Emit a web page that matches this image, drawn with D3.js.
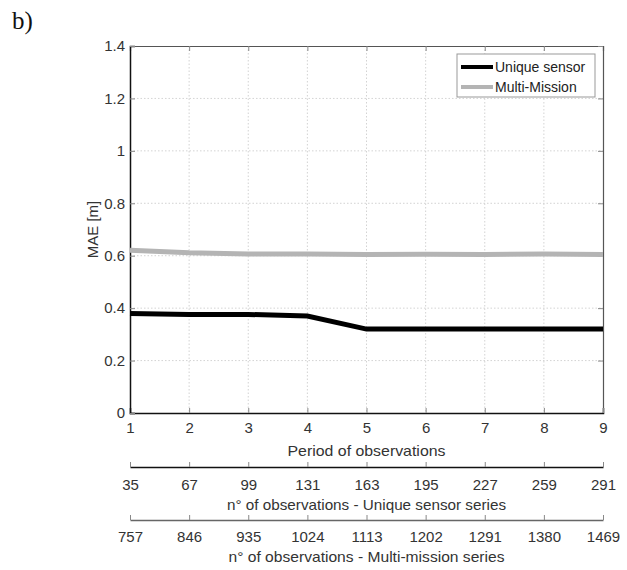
<!DOCTYPE html>
<html>
<head>
<meta charset="utf-8">
<script src="https://cdn.jsdelivr.net/npm/d3@7"></script>
<style>
  html, body { margin: 0; padding: 0; background: #fff; }
  svg { display: block; }
  text { font-family: "Liberation Sans", Arial, sans-serif; }
</style>
</head>
<body>
<svg id="chart" width="627" height="570"></svg>
<script>
// Periods of observation and the MAE of each series
const periods = [1, 2, 3, 4, 5, 6, 7, 8, 9];
const uniqueSensor = [0.38, 0.376, 0.376, 0.37, 0.32, 0.32, 0.32, 0.32, 0.32];
const multiMission = [0.621, 0.611, 0.607, 0.607, 0.605, 0.606, 0.605, 0.607, 0.605];

// Observation counts matching each period
const obsUnique = [35, 67, 99, 131, 163, 195, 227, 259, 291];
const obsMulti = [757, 846, 935, 1024, 1113, 1202, 1291, 1380, 1469];

const yTicks = [0, 0.2, 0.4, 0.6, 0.8, 1, 1.2, 1.4];
const seriesNames = ["Unique sensor", "Multi-Mission"];

const svg = d3.select("#chart");
const plotL = 130, plotR = 603, plotT = 46, plotB = 413;

const x = d3.scaleLinear().domain([1, 9]).range([plotL, plotR]);
const y = d3.scaleLinear().domain([0, 1.4]).range([plotB, plotT]);

// panel label
svg.append("text").attr("x", 12).attr("y", 29)
  .style("font-family", "'Liberation Serif', 'DejaVu Serif', serif")
  .style("font-size", "25px").attr("fill", "#111").text("b)");

// dotted grid
const grid = svg.append("g").attr("stroke", "#c8c8c8").attr("stroke-width", 0.8)
  .attr("stroke-dasharray", "1.5,2");
grid.selectAll("line.gx").data(periods.slice(1, -1)).join("line")
  .attr("x1", d => x(d)).attr("x2", d => x(d)).attr("y1", plotT).attr("y2", plotB);
grid.selectAll("line.gy").data(yTicks.slice(1, -1)).join("line")
  .attr("x1", plotL).attr("x2", plotR).attr("y1", d => y(d)).attr("y2", d => y(d));

// axes with inward ticks
const axisStyle = g => {
  g.selectAll("text").style("font-size", "15px").attr("fill", "#333");
  g.selectAll(".tick line").attr("stroke", "#888");
};
svg.append("g").attr("transform", `translate(0,${plotT})`)
  .call(d3.axisTop(x).tickValues(periods).tickSize(-5).tickFormat(""))
  .call(g => g.select(".domain").attr("stroke", "#555").attr("stroke-width", 1.2))
  .call(axisStyle);
svg.append("g").attr("transform", `translate(${plotR},0)`)
  .call(d3.axisRight(y).tickValues(yTicks).tickSize(-5).tickFormat(""))
  .call(g => g.select(".domain").attr("stroke", "#555").attr("stroke-width", 1.2))
  .call(axisStyle);
svg.append("g").attr("transform", `translate(0,${plotB})`)
  .call(d3.axisBottom(x).tickValues(periods).tickSize(-5).tickPadding(9).tickFormat(d3.format("d")))
  .call(g => g.select(".domain").attr("stroke", "#111").attr("stroke-width", 1.5))
  .call(axisStyle);
svg.append("g").attr("transform", `translate(${plotL},0)`)
  .call(d3.axisLeft(y).tickValues(yTicks).tickSize(-5).tickPadding(5).tickFormat(d => d3.format("~g")(d)))
  .call(g => g.select(".domain").attr("stroke", "#111").attr("stroke-width", 1.5))
  .call(axisStyle);

// series lines
const line = vals => d3.line().x((d, i) => x(periods[i])).y(d => y(d))(vals);
svg.append("path").attr("d", line(multiMission)).attr("fill", "none")
  .attr("stroke", "#b4b4b4").attr("stroke-width", 5);
svg.append("path").attr("d", line(uniqueSensor)).attr("fill", "none")
  .attr("stroke", "#000").attr("stroke-width", 5);

// axis titles
function title(text, cx, cy, len) {
  return svg.append("text").attr("x", cx).attr("y", cy).attr("text-anchor", "middle")
    .attr("textLength", len).attr("lengthAdjust", "spacingAndGlyphs")
    .style("font-size", "15px").attr("fill", "#333").text(text);
}
title("Period of observations", (plotL + plotR) / 2, 456, 158);
svg.append("text").attr("transform", `translate(98,${(plotT + plotB) / 2}) rotate(-90)`)
  .attr("text-anchor", "middle").style("font-size", "15px").attr("fill", "#333").text("MAE [m]");

// legend
const lg = svg.append("g");
lg.append("rect").attr("x", 457).attr("y", 54).attr("width", 138).attr("height", 43)
  .attr("fill", "#fff").attr("stroke", "#999").attr("stroke-width", 1);
const legColors = ["#000", "#b4b4b4"];
seriesNames.forEach((name, i) => {
  const cy = 67 + i * 20;
  lg.append("line").attr("x1", 461).attr("x2", 493).attr("y1", cy).attr("y2", cy)
    .attr("stroke", legColors[i]).attr("stroke-width", 4);
  lg.append("text").attr("x", 495).attr("y", cy + 5).style("font-size", "14px")
    .attr("fill", "#222").text(name);
});

// secondary scales for observation counts
const xU = d3.scaleLinear().domain([obsUnique[0], obsUnique[obsUnique.length - 1]]).range([plotL, plotR]);
const xM = d3.scaleLinear().domain([obsMulti[0], obsMulti[obsMulti.length - 1]]).range([plotL, plotR]);

function countAxis(scale, vals, yPos, pad, color, text, titleY, len) {
  svg.append("g").attr("transform", `translate(0,${yPos})`)
    .call(d3.axisBottom(scale).tickValues(vals).tickSize(-5).tickPadding(pad).tickSizeOuter(0).tickFormat(d3.format("d")))
    .call(g => g.select(".domain").attr("stroke", color).attr("stroke-width", 1.5))
    .call(axisStyle);
  title(text, (plotL + plotR) / 2, titleY, len);
}
countAxis(xU, obsUnique, 467, 12, "#111", "n\u00b0 of observations - Unique sensor series", 510, 279);
countAxis(xM, obsMulti, 520, 11, "#666", "n\u00b0 of observations -  Multi-mission series", 562, 276);
</script>
</body>
</html>
